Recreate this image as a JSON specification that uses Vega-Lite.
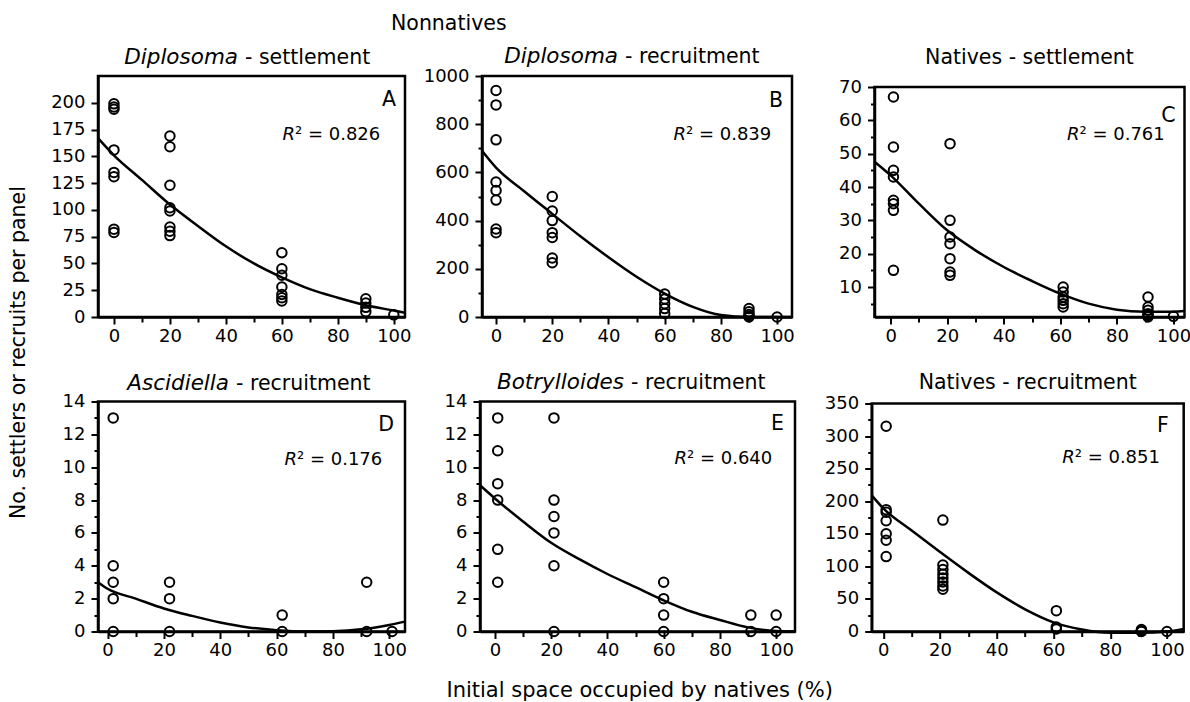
{
"$schema": "https://vega.github.io/schema/vega-lite/v6.json",
"background": "white",
"padding": {"left": 8, "top": 13, "right": 0, "bottom": 0},
"config": {
  "font": "DejaVu Sans",
  "view": {"stroke": "black", "strokeWidth": 2.5},
  "axis": {"domainColor": "black", "domainWidth": 2.5, "tickColor": "black", "tickWidth": 2, "labelColor": "black", "labelFont": "DejaVu Sans", "labelFontSize": 18, "grid": false, "titleFont": "DejaVu Sans", "titleFontSize": 20.5, "titleFontWeight": "normal", "titleColor": "black", "labelOverlap": false, "labelFlush": false, "labelBound": false, "labelSeparation": 0},
  "title": {"font": "DejaVu Sans", "fontWeight": "normal", "fontSize": 20.5, "color": "black"},
  "text": {"font": "DejaVu Sans", "color": "black", "baseline": "alphabetic"}
},
"title": {"text": "Nonnatives", "anchor": "start", "frame": "group", "dx": 293, "offset": 10},
"vconcat": [{
  "title": {"text": "No. settlers or recruits per panel", "orient": "left", "anchor": "middle", "offset": 20, "dx": 20},
  "vconcat": [{
  "title": {"text": "Initial space occupied by natives (%)", "orient": "bottom", "anchor": "middle", "offset": 19, "dx": 19, "fontSize": 21},
  "spacing": 23.5,
  "vconcat": [
  {"spacing": 8, "hconcat": [
    {"width": 307, "height": 241, "layer": [
      {"data": {"values": [{"x":0,"y":199},{"x":0,"y":196},{"x":0,"y":194},{"x":0,"y":156},{"x":0,"y":135},{"x":0,"y":131},{"x":0,"y":82},{"x":0,"y":79},{"x":20,"y":169},{"x":20,"y":159},{"x":20,"y":123},{"x":20,"y":102},{"x":20,"y":99},{"x":20,"y":84},{"x":20,"y":80},{"x":20,"y":76},{"x":60,"y":60},{"x":60,"y":45},{"x":60,"y":39},{"x":60,"y":28},{"x":60,"y":21},{"x":60,"y":18},{"x":60,"y":15},{"x":90,"y":17},{"x":90,"y":13},{"x":90,"y":9},{"x":90,"y":5},{"x":100,"y":2}]},
       "mark": {"type": "point", "shape": "circle", "filled": false, "stroke": "black", "strokeWidth": 2, "size": 90, "opacity": 1},
       "encoding": {
         "x": {"field": "x", "type": "quantitative", "scale": {"domain": [-5.7, 104], "nice": false, "zero": false}, "axis": {"values": [0,10,20,30,40,50,60,70,80,90,100], "tickCount": 100, "format": "d", "labelExpr": "datum.value % 20 === 0 ? datum.label : ''", "tickSize": {"condition": {"test": "datum.value % 20 === 0", "value": 7}, "value": 5}, "title": null, "labelPadding": 3, "labelFlush": false, "labelOverlap": false}},
         "y": {"field": "y", "type": "quantitative", "scale": {"domain": [0, 225], "nice": false, "zero": false}, "axis": {"values": [0,25,50,75,100,125,150,175,200], "tickCount": 100, "format": "d", "title": null, "tickSize": 7, "labelPadding": 6, "labelOverlap": false}}}},
      {"data": {"values": [{"x":-5.7,"y":167},{"x":0,"y":151},{"x":10,"y":128},{"x":20,"y":105},{"x":30,"y":85},{"x":40,"y":66},{"x":50,"y":50},{"x":60,"y":37},{"x":70,"y":26},{"x":80,"y":18},{"x":90,"y":11},{"x":100,"y":6},{"x":104,"y":4}]},
       "mark": {"type": "line", "stroke": "black", "strokeWidth": 2.5, "interpolate": "monotone"},
       "encoding": {"x": {"field": "x", "type": "quantitative"}, "y": {"field": "y", "type": "quantitative"}}},
      {"data": {"values": [{"label": "Diplosoma"}]}, "mark": {"type": "text", "fontStyle": "italic", "align": "right", "fontSize": 21.5, "dx": 140, "dy": -12}, "encoding": {"text": {"field": "label"}, "x": {"datum": -5.7}, "y": {"datum": 225}}},
      {"data": {"values": [{"label": "- settlement"}]}, "mark": {"type": "text", "align": "left", "fontSize": 20.5, "dx": 147, "dy": -12}, "encoding": {"text": {"field": "label"}, "x": {"datum": -5.7}, "y": {"datum": 225}}},
      {"data": {"values": [{"label": "A"}]}, "mark": {"type": "text", "align": "right", "fontSize": 20.5, "dx": -9, "dy": 30}, "encoding": {"text": {"field": "label"}, "x": {"datum": 104}, "y": {"datum": 225}}},
      {"data": {"values": [{"label": "R"}]}, "mark": {"type": "text", "align": "right", "fontStyle": "italic", "fontSize": 18, "dx": -110, "dy": 64}, "encoding": {"text": {"field": "label"}, "x": {"datum": 104}, "y": {"datum": 225}}},
      {"data": {"values": [{"label": "\u00b2 = 0.826"}]}, "mark": {"type": "text", "align": "left", "fontSize": 18, "dx": -110, "dy": 64}, "encoding": {"text": {"field": "label"}, "x": {"datum": 104}, "y": {"datum": 225}}}
    ]},
    {"spacing": 37.5, "hconcat": [
      {"width": 310, "height": 241, "layer": [
        {"data": {"values": [{"x":0,"y":940},{"x":0,"y":880},{"x":0,"y":735},{"x":0,"y":560},{"x":0,"y":525},{"x":0,"y":485},{"x":0,"y":365},{"x":0,"y":350},{"x":20,"y":500},{"x":20,"y":440},{"x":20,"y":400},{"x":20,"y":350},{"x":20,"y":330},{"x":20,"y":245},{"x":20,"y":225},{"x":60,"y":95},{"x":60,"y":75},{"x":60,"y":55},{"x":60,"y":35},{"x":60,"y":15},{"x":90,"y":35},{"x":90,"y":22},{"x":90,"y":10},{"x":90,"y":3},{"x":90,"y":0},{"x":100,"y":0}]},
         "mark": {"type": "point", "shape": "circle", "filled": false, "stroke": "black", "strokeWidth": 2, "size": 90, "opacity": 1},
         "encoding": {
           "x": {"field": "x", "type": "quantitative", "scale": {"domain": [-5, 105.3], "nice": false, "zero": false}, "axis": {"values": [0,10,20,30,40,50,60,70,80,90,100], "tickCount": 100, "format": "d", "labelExpr": "datum.value % 20 === 0 ? datum.label : ''", "tickSize": {"condition": {"test": "datum.value % 20 === 0", "value": 7}, "value": 5}, "title": null, "labelPadding": 3, "labelFlush": false, "labelOverlap": false}},
           "y": {"field": "y", "type": "quantitative", "scale": {"domain": [0, 1000], "nice": false, "zero": false}, "axis": {"values": [0,100,200,300,400,500,600,700,800,900,1000], "tickCount": 100, "format": "d", "labelExpr": "datum.value % 200 === 0 ? datum.label : ''", "tickSize": {"condition": {"test": "datum.value % 200 === 0", "value": 7}, "value": 4}, "title": null, "labelPadding": 6, "labelOverlap": false}}}},
        {"data": {"values": [{"x":-5,"y":690},{"x":0,"y":620},{"x":10,"y":522},{"x":20,"y":428},{"x":30,"y":335},{"x":40,"y":248},{"x":50,"y":167},{"x":60,"y":97},{"x":70,"y":42},{"x":80,"y":8},{"x":90,"y":0},{"x":100,"y":0},{"x":105.3,"y":0}]},
         "mark": {"type": "line", "stroke": "black", "strokeWidth": 2.5, "interpolate": "monotone"},
         "encoding": {"x": {"field": "x", "type": "quantitative"}, "y": {"field": "y", "type": "quantitative"}}},
        {"data": {"values": [{"label": "Diplosoma"}]}, "mark": {"type": "text", "fontStyle": "italic", "align": "right", "fontSize": 21.5, "dx": 136, "dy": -13.3}, "encoding": {"text": {"field": "label"}, "x": {"datum": -5}, "y": {"datum": 1000}}},
        {"data": {"values": [{"label": "- recruitment"}]}, "mark": {"type": "text", "align": "left", "fontSize": 20.5, "dx": 143, "dy": -13.3}, "encoding": {"text": {"field": "label"}, "x": {"datum": -5}, "y": {"datum": 1000}}},
        {"data": {"values": [{"label": "B"}]}, "mark": {"type": "text", "align": "right", "fontSize": 20.5, "dx": -9, "dy": 31}, "encoding": {"text": {"field": "label"}, "x": {"datum": 105.3}, "y": {"datum": 1000}}},
        {"data": {"values": [{"label": "R"}]}, "mark": {"type": "text", "align": "right", "fontStyle": "italic", "fontSize": 18, "dx": -106, "dy": 64}, "encoding": {"text": {"field": "label"}, "x": {"datum": 105.3}, "y": {"datum": 1000}}},
        {"data": {"values": [{"label": "\u00b2 = 0.839"}]}, "mark": {"type": "text", "align": "left", "fontSize": 18, "dx": -106, "dy": 64}, "encoding": {"text": {"field": "label"}, "x": {"datum": 105.3}, "y": {"datum": 1000}}}
      ]},
      {"spacing": 0, "bounds": "flush", "vconcat": [
        {"width": 310, "height": 11, "data": {"values": []}, "mark": "point", "view": {"stroke": null}},
        {"width": 310, "height": 230, "layer": [
          {"data": {"values": [{"x":1,"y":67},{"x":1,"y":52},{"x":1,"y":45},{"x":1,"y":43},{"x":1,"y":36},{"x":1,"y":35},{"x":1,"y":33},{"x":1,"y":15},{"x":21,"y":53},{"x":21,"y":30},{"x":21,"y":25},{"x":21,"y":23},{"x":21,"y":18.5},{"x":21,"y":14.5},{"x":21,"y":13.5},{"x":61,"y":10},{"x":61,"y":8.5},{"x":61,"y":7},{"x":61,"y":6},{"x":61,"y":5},{"x":61,"y":4},{"x":91,"y":7},{"x":91,"y":4},{"x":91,"y":3},{"x":91,"y":2},{"x":91,"y":1.5},{"x":91,"y":1},{"x":100,"y":1.2}]},
           "mark": {"type": "point", "shape": "circle", "filled": false, "stroke": "black", "strokeWidth": 2, "size": 90, "opacity": 1},
           "encoding": {
             "x": {"field": "x", "type": "quantitative", "scale": {"domain": [-5.7, 103.9], "nice": false, "zero": false}, "axis": {"values": [0,10,20,30,40,50,60,70,80,90,100], "tickCount": 100, "format": "d", "labelExpr": "datum.value % 20 === 0 ? datum.label : ''", "tickSize": {"condition": {"test": "datum.value % 20 === 0", "value": 7}, "value": 5}, "title": null, "labelPadding": 3, "labelFlush": false, "labelOverlap": false}},
             "y": {"field": "y", "type": "quantitative", "scale": {"domain": [1, 70], "nice": false, "zero": false}, "axis": {"values": [5,10,15,20,25,30,35,40,45,50,55,60,65,70], "tickCount": 100, "format": "d", "labelExpr": "datum.value % 10 === 0 ? datum.label : ''", "tickSize": {"condition": {"test": "datum.value % 10 === 0", "value": 7}, "value": 4}, "title": null, "labelPadding": 6, "labelOverlap": false}}}},
          {"data": {"values": [{"x":-5.7,"y":47.6},{"x":0,"y":43.5},{"x":10,"y":35},{"x":20,"y":27},{"x":30,"y":21},{"x":40,"y":16},{"x":50,"y":11.8},{"x":60,"y":8},{"x":70,"y":5},{"x":80,"y":3.2},{"x":90,"y":2.6},{"x":100,"y":2.6},{"x":103.9,"y":2.8}]},
           "mark": {"type": "line", "stroke": "black", "strokeWidth": 2.5, "interpolate": "monotone"},
           "encoding": {"x": {"field": "x", "type": "quantitative"}, "y": {"field": "y", "type": "quantitative"}}},
          {"data": {"values": [{"label": "Natives - settlement"}]}, "mark": {"type": "text", "align": "center", "fontSize": 20.5, "dx": 155, "dy": -23}, "encoding": {"text": {"field": "label"}, "x": {"datum": -5.7}, "y": {"datum": 70}}},
          {"data": {"values": [{"label": "C"}]}, "mark": {"type": "text", "align": "right", "fontSize": 20.5, "dx": -9, "dy": 35}, "encoding": {"text": {"field": "label"}, "x": {"datum": 103.9}, "y": {"datum": 70}}},
          {"data": {"values": [{"label": "R"}]}, "mark": {"type": "text", "align": "right", "fontStyle": "italic", "fontSize": 18, "dx": -105, "dy": 53}, "encoding": {"text": {"field": "label"}, "x": {"datum": 103.9}, "y": {"datum": 70}}},
          {"data": {"values": [{"label": "\u00b2 = 0.761"}]}, "mark": {"type": "text", "align": "left", "fontSize": 18, "dx": -105, "dy": 53}, "encoding": {"text": {"field": "label"}, "x": {"datum": 103.9}, "y": {"datum": 70}}}
        ]}
      ]}
    ]}
  ]},
  {"spacing": 30, "hconcat": [
    {"width": 307, "height": 230, "layer": [
      {"data": {"values": [{"x":2,"y":13},{"x":2,"y":4},{"x":2,"y":3},{"x":2,"y":2},{"x":2,"y":0},{"x":22,"y":3},{"x":22,"y":2},{"x":22,"y":0},{"x":62,"y":1},{"x":62,"y":0},{"x":92,"y":3},{"x":92,"y":0},{"x":101,"y":0}]},
       "mark": {"type": "point", "shape": "circle", "filled": false, "stroke": "black", "strokeWidth": 2, "size": 90, "opacity": 1},
       "encoding": {
         "x": {"field": "x", "type": "quantitative", "scale": {"domain": [-3.4, 105.6], "nice": false, "zero": false}, "axis": {"values": [0,10,20,30,40,50,60,70,80,90,100], "tickCount": 100, "format": "d", "labelExpr": "datum.value % 20 === 0 ? datum.label : ''", "tickSize": {"condition": {"test": "datum.value % 20 === 0", "value": 7}, "value": 5}, "title": null, "labelPadding": 3, "labelFlush": false, "labelOverlap": false}},
         "y": {"field": "y", "type": "quantitative", "scale": {"domain": [0, 14], "nice": false, "zero": false}, "axis": {"values": [0,1,2,3,4,5,6,7,8,9,10,11,12,13,14], "tickCount": 100, "format": "d", "labelExpr": "datum.value % 2 === 0 ? datum.label : ''", "tickSize": {"condition": {"test": "datum.value % 2 === 0", "value": 7}, "value": 4}, "title": null, "labelPadding": 6, "labelOverlap": false}}}},
      {"data": {"values": [{"x":-3.4,"y":3.0},{"x":0,"y":2.6},{"x":10,"y":2.0},{"x":20,"y":1.4},{"x":30,"y":0.95},{"x":40,"y":0.55},{"x":50,"y":0.25},{"x":60,"y":0.08},{"x":70,"y":0},{"x":80,"y":0.02},{"x":90,"y":0.13},{"x":100,"y":0.4},{"x":105.6,"y":0.6}]},
       "mark": {"type": "line", "stroke": "black", "strokeWidth": 2.5, "interpolate": "monotone"},
       "encoding": {"x": {"field": "x", "type": "quantitative"}, "y": {"field": "y", "type": "quantitative"}}},
      {"data": {"values": [{"label": "Ascidiella"}]}, "mark": {"type": "text", "fontStyle": "italic", "align": "right", "fontSize": 21.5, "dx": 131, "dy": -11.5}, "encoding": {"text": {"field": "label"}, "x": {"datum": -3.4}, "y": {"datum": 14}}},
      {"data": {"values": [{"label": "- recruitment"}]}, "mark": {"type": "text", "align": "left", "fontSize": 20.5, "dx": 138, "dy": -11.5}, "encoding": {"text": {"field": "label"}, "x": {"datum": -3.4}, "y": {"datum": 14}}},
      {"data": {"values": [{"label": "D"}]}, "mark": {"type": "text", "align": "right", "fontSize": 20.5, "dx": -11, "dy": 29.5}, "encoding": {"text": {"field": "label"}, "x": {"datum": 105.6}, "y": {"datum": 14}}},
      {"data": {"values": [{"label": "R"}]}, "mark": {"type": "text", "align": "right", "fontStyle": "italic", "fontSize": 18, "dx": -108, "dy": 63}, "encoding": {"text": {"field": "label"}, "x": {"datum": 105.6}, "y": {"datum": 14}}},
      {"data": {"values": [{"label": "\u00b2 = 0.176"}]}, "mark": {"type": "text", "align": "left", "fontSize": 18, "dx": -108, "dy": 63}, "encoding": {"text": {"field": "label"}, "x": {"datum": 105.6}, "y": {"datum": 14}}}
    ]},
    {"spacing": 20.7, "hconcat": [
      {"width": 315, "height": 230, "layer": [
        {"data": {"values": [{"x":1,"y":13},{"x":1,"y":11},{"x":1,"y":9},{"x":1,"y":8},{"x":1,"y":5},{"x":1,"y":3},{"x":21,"y":13},{"x":21,"y":8},{"x":21,"y":7},{"x":21,"y":6},{"x":21,"y":4},{"x":21,"y":0},{"x":60,"y":3},{"x":60,"y":2},{"x":60,"y":1},{"x":60,"y":0},{"x":91,"y":1},{"x":91,"y":0},{"x":100,"y":1},{"x":100,"y":0}]},
         "mark": {"type": "point", "shape": "circle", "filled": false, "stroke": "black", "strokeWidth": 2, "size": 90, "opacity": 1},
         "encoding": {
           "x": {"field": "x", "type": "quantitative", "scale": {"domain": [-5.3, 106.7], "nice": false, "zero": false}, "axis": {"values": [0,10,20,30,40,50,60,70,80,90,100], "tickCount": 100, "format": "d", "labelExpr": "datum.value % 20 === 0 ? datum.label : ''", "tickSize": {"condition": {"test": "datum.value % 20 === 0", "value": 7}, "value": 5}, "title": null, "labelPadding": 3, "labelFlush": false, "labelOverlap": false}},
           "y": {"field": "y", "type": "quantitative", "scale": {"domain": [0, 14], "nice": false, "zero": false}, "axis": {"values": [0,1,2,3,4,5,6,7,8,9,10,11,12,13,14], "tickCount": 100, "format": "d", "labelExpr": "datum.value % 2 === 0 ? datum.label : ''", "tickSize": {"condition": {"test": "datum.value % 2 === 0", "value": 7}, "value": 4}, "title": null, "labelPadding": 6, "labelOverlap": false}}}},
        {"data": {"values": [{"x":-5.3,"y":8.9},{"x":0,"y":8.1},{"x":10,"y":6.7},{"x":20,"y":5.4},{"x":30,"y":4.4},{"x":40,"y":3.5},{"x":50,"y":2.7},{"x":60,"y":1.9},{"x":70,"y":1.2},{"x":80,"y":0.7},{"x":90,"y":0.25},{"x":100,"y":0.03},{"x":106.7,"y":0}]},
         "mark": {"type": "line", "stroke": "black", "strokeWidth": 2.5, "interpolate": "monotone"},
         "encoding": {"x": {"field": "x", "type": "quantitative"}, "y": {"field": "y", "type": "quantitative"}}},
        {"data": {"values": [{"label": "Botrylloides"}]}, "mark": {"type": "text", "fontStyle": "italic", "align": "right", "fontSize": 21.5, "dx": 144, "dy": -12.7}, "encoding": {"text": {"field": "label"}, "x": {"datum": -5.3}, "y": {"datum": 14}}},
        {"data": {"values": [{"label": "- recruitment"}]}, "mark": {"type": "text", "align": "left", "fontSize": 20.5, "dx": 151, "dy": -12.7}, "encoding": {"text": {"field": "label"}, "x": {"datum": -5.3}, "y": {"datum": 14}}},
        {"data": {"values": [{"label": "E"}]}, "mark": {"type": "text", "align": "right", "fontSize": 20.5, "dx": -11, "dy": 28.5}, "encoding": {"text": {"field": "label"}, "x": {"datum": 106.7}, "y": {"datum": 14}}},
        {"data": {"values": [{"label": "R"}]}, "mark": {"type": "text", "align": "right", "fontStyle": "italic", "fontSize": 18, "dx": -108, "dy": 62}, "encoding": {"text": {"field": "label"}, "x": {"datum": 106.7}, "y": {"datum": 14}}},
        {"data": {"values": [{"label": "\u00b2 = 0.640"}]}, "mark": {"type": "text", "align": "left", "fontSize": 18, "dx": -108, "dy": 62}, "encoding": {"text": {"field": "label"}, "x": {"datum": 106.7}, "y": {"datum": 14}}}
      ]},
      {"spacing": 0, "bounds": "flush", "vconcat": [
        {"width": 312, "height": 2, "data": {"values": []}, "mark": "point", "view": {"stroke": null}},
        {"width": 312, "height": 228, "layer": [
          {"data": {"values": [{"x":1,"y":315},{"x":1,"y":187},{"x":1,"y":183},{"x":1,"y":170},{"x":1,"y":150},{"x":1,"y":140},{"x":1,"y":115},{"x":21,"y":171},{"x":21,"y":102},{"x":21,"y":95},{"x":21,"y":88},{"x":21,"y":82},{"x":21,"y":76},{"x":21,"y":70},{"x":21,"y":65},{"x":61,"y":32},{"x":61,"y":7},{"x":61,"y":4},{"x":91,"y":3},{"x":91,"y":2},{"x":91,"y":1},{"x":91,"y":0},{"x":100,"y":0}]},
           "mark": {"type": "point", "shape": "circle", "filled": false, "stroke": "black", "strokeWidth": 2, "size": 90, "opacity": 1},
           "encoding": {
             "x": {"field": "x", "type": "quantitative", "scale": {"domain": [-4.1, 105.9], "nice": false, "zero": false}, "axis": {"values": [0,10,20,30,40,50,60,70,80,90,100], "tickCount": 100, "format": "d", "labelExpr": "datum.value % 20 === 0 ? datum.label : ''", "tickSize": {"condition": {"test": "datum.value % 20 === 0", "value": 7}, "value": 5}, "title": null, "labelPadding": 3, "labelFlush": false, "labelOverlap": false}},
             "y": {"field": "y", "type": "quantitative", "scale": {"domain": [0, 350], "nice": false, "zero": false}, "axis": {"values": [0,25,50,75,100,125,150,175,200,225,250,275,300,325,350], "tickCount": 100, "format": "d", "labelExpr": "datum.value % 50 === 0 ? datum.label : ''", "tickSize": {"condition": {"test": "datum.value % 50 === 0", "value": 7}, "value": 4}, "title": null, "labelPadding": 6, "labelOverlap": false}}}},
          {"data": {"values": [{"x":-4.1,"y":209},{"x":0,"y":189},{"x":10,"y":155},{"x":20,"y":122},{"x":30,"y":90},{"x":40,"y":60},{"x":50,"y":34},{"x":60,"y":14},{"x":70,"y":3},{"x":80,"y":-2},{"x":90,"y":-2},{"x":100,"y":0},{"x":105.9,"y":4}]},
           "mark": {"type": "line", "stroke": "black", "strokeWidth": 2.5, "interpolate": "monotone"},
           "encoding": {"x": {"field": "x", "type": "quantitative"}, "y": {"field": "y", "type": "quantitative"}}},
          {"data": {"values": [{"label": "Natives - recruitment"}]}, "mark": {"type": "text", "align": "center", "fontSize": 20.5, "dx": 156, "dy": -15}, "encoding": {"text": {"field": "label"}, "x": {"datum": -4.1}, "y": {"datum": 350}}},
          {"data": {"values": [{"label": "F"}]}, "mark": {"type": "text", "align": "right", "fontSize": 20.5, "dx": -15, "dy": 28}, "encoding": {"text": {"field": "label"}, "x": {"datum": 105.9}, "y": {"datum": 350}}},
          {"data": {"values": [{"label": "R"}]}, "mark": {"type": "text", "align": "right", "fontStyle": "italic", "fontSize": 18, "dx": -109, "dy": 59}, "encoding": {"text": {"field": "label"}, "x": {"datum": 105.9}, "y": {"datum": 350}}},
          {"data": {"values": [{"label": "\u00b2 = 0.851"}]}, "mark": {"type": "text", "align": "left", "fontSize": 18, "dx": -109, "dy": 59}, "encoding": {"text": {"field": "label"}, "x": {"datum": 105.9}, "y": {"datum": 350}}}
        ]}
      ]}
    ]}
  ]}
  ]
  }]
}]
}
